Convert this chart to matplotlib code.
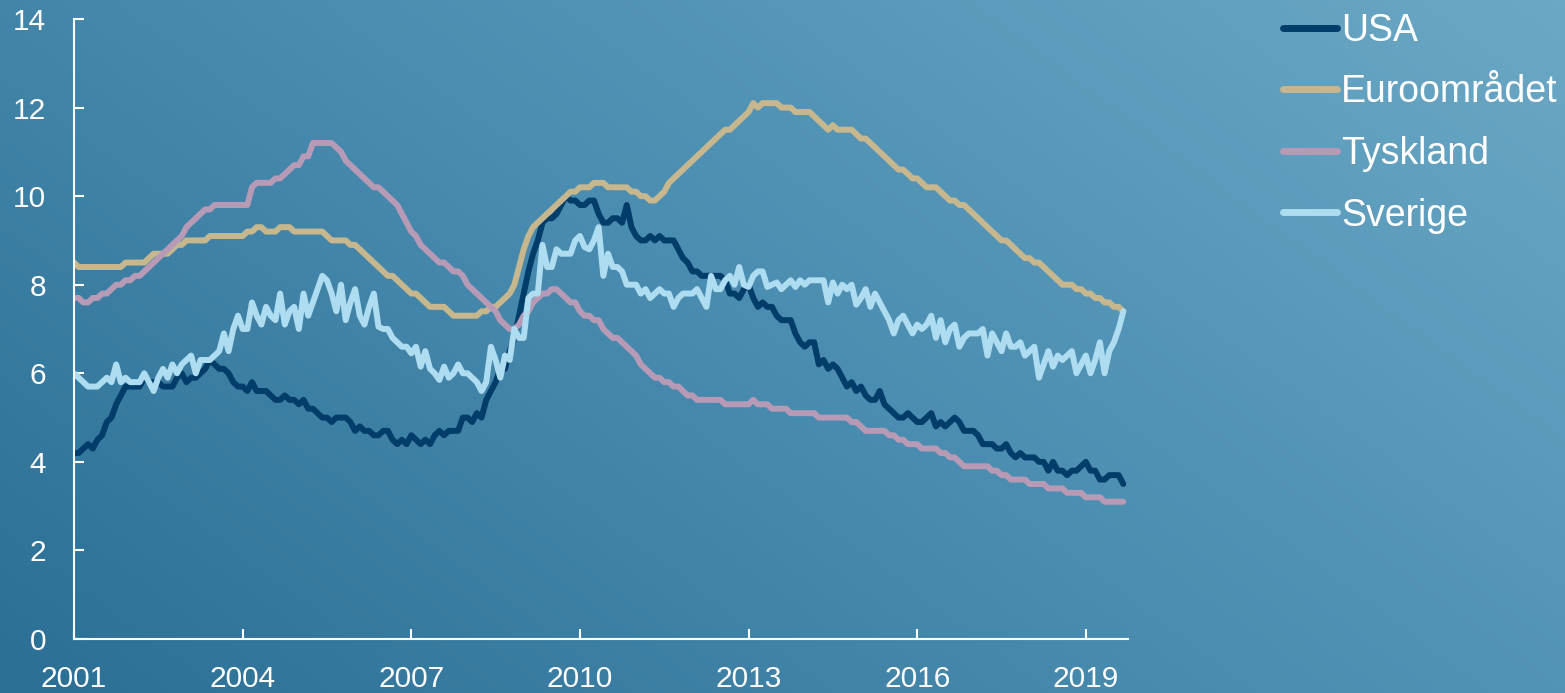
import numpy as np
import matplotlib
matplotlib.use("Agg")
import matplotlib.pyplot as plt
from matplotlib.colors import LinearSegmentedColormap

# ---------------- data (monthly, Jan 2001 - Sep 2019) ----------------
start_year = 2001
series_names = ["USA", "Euroområdet", "Tyskland", "Sverige"]

usa = [
    4.2, 4.2, 4.3, 4.4, 4.3, 4.5, 4.6, 4.9, 5.0, 5.3, 5.5, 5.7,
    5.7, 5.7, 5.7, 5.9, 5.8, 5.8, 5.8, 5.7, 5.7, 5.7, 5.9, 6.0,
    5.8, 5.9, 5.9, 6.0, 6.1, 6.3, 6.2, 6.1, 6.1, 6.0, 5.8, 5.7,
    5.7, 5.6, 5.8, 5.6, 5.6, 5.6, 5.5, 5.4, 5.4, 5.5, 5.4, 5.4,
    5.3, 5.4, 5.2, 5.2, 5.1, 5.0, 5.0, 4.9, 5.0, 5.0, 5.0, 4.9,
    4.7, 4.8, 4.7, 4.7, 4.6, 4.6, 4.7, 4.7, 4.5, 4.4, 4.5, 4.4,
    4.6, 4.5, 4.4, 4.5, 4.4, 4.6, 4.7, 4.6, 4.7, 4.7, 4.7, 5.0,
    5.0, 4.9, 5.1, 5.0, 5.4, 5.6, 5.8, 6.1, 6.1, 6.5, 6.8, 7.3,
    7.8, 8.3, 8.7, 9.0, 9.4, 9.5, 9.5, 9.6, 9.8, 10.0, 9.9, 9.9,
    9.8, 9.8, 9.9, 9.9, 9.6, 9.4, 9.4, 9.5, 9.5, 9.4, 9.8, 9.3,
    9.1, 9.0, 9.0, 9.1, 9.0, 9.1, 9.0, 9.0, 9.0, 8.8, 8.6, 8.5,
    8.3, 8.3, 8.2, 8.2, 8.2, 8.2, 8.2, 8.1, 7.8, 7.8, 7.7, 7.9,
    8.0, 7.7, 7.5, 7.6, 7.5, 7.5, 7.3, 7.2, 7.2, 7.2, 6.9, 6.7,
    6.6, 6.7, 6.7, 6.2, 6.3, 6.1, 6.2, 6.1, 5.9, 5.7, 5.8, 5.6,
    5.7, 5.5, 5.4, 5.4, 5.6, 5.3, 5.2, 5.1, 5.0, 5.0, 5.1, 5.0,
    4.9, 4.9, 5.0, 5.1, 4.8, 4.9, 4.8, 4.9, 5.0, 4.9, 4.7, 4.7,
    4.7, 4.6, 4.4, 4.4, 4.4, 4.3, 4.3, 4.4, 4.2, 4.1, 4.2, 4.1,
    4.1, 4.1, 4.0, 4.0, 3.8, 4.0, 3.8, 3.8, 3.7, 3.8, 3.8, 3.9,
    4.0, 3.8, 3.8, 3.6, 3.6, 3.7, 3.7, 3.7, 3.5,
]

euro = [
    8.5, 8.4, 8.4, 8.4, 8.4, 8.4, 8.4, 8.4, 8.4, 8.4, 8.4, 8.5,
    8.5, 8.5, 8.5, 8.5, 8.6, 8.7, 8.7, 8.7, 8.7, 8.8, 8.9, 8.9,
    9.0, 9.0, 9.0, 9.0, 9.0, 9.1, 9.1, 9.1, 9.1, 9.1, 9.1, 9.1,
    9.1, 9.2, 9.2, 9.3, 9.3, 9.2, 9.2, 9.2, 9.3, 9.3, 9.3, 9.2,
    9.2, 9.2, 9.2, 9.2, 9.2, 9.2, 9.1, 9.0, 9.0, 9.0, 9.0, 8.9,
    8.9, 8.8, 8.7, 8.6, 8.5, 8.4, 8.3, 8.2, 8.2, 8.1, 8.0, 7.9,
    7.8, 7.8, 7.7, 7.6, 7.5, 7.5, 7.5, 7.5, 7.4, 7.3, 7.3, 7.3,
    7.3, 7.3, 7.3, 7.4, 7.4, 7.5, 7.5, 7.6, 7.7, 7.8, 8.0, 8.4,
    8.8, 9.1, 9.3, 9.4, 9.5, 9.6, 9.7, 9.8, 9.9, 10.0, 10.1, 10.1,
    10.2, 10.2, 10.2, 10.3, 10.3, 10.3, 10.2, 10.2, 10.2, 10.2, 10.2, 10.1,
    10.1, 10.0, 10.0, 9.9, 9.9, 10.0, 10.1, 10.3, 10.4, 10.5, 10.6, 10.7,
    10.8, 10.9, 11.0, 11.1, 11.2, 11.3, 11.4, 11.5, 11.5, 11.6, 11.7, 11.8,
    11.9, 12.1, 12.0, 12.1, 12.1, 12.1, 12.1, 12.0, 12.0, 12.0, 11.9, 11.9,
    11.9, 11.9, 11.8, 11.7, 11.6, 11.5, 11.6, 11.5, 11.5, 11.5, 11.5, 11.4,
    11.3, 11.3, 11.2, 11.1, 11.0, 10.9, 10.8, 10.7, 10.6, 10.6, 10.5, 10.4,
    10.4, 10.3, 10.2, 10.2, 10.2, 10.1, 10.0, 9.9, 9.9, 9.8, 9.8, 9.7,
    9.6, 9.5, 9.4, 9.3, 9.2, 9.1, 9.0, 9.0, 8.9, 8.8, 8.7, 8.6,
    8.6, 8.5, 8.5, 8.4, 8.3, 8.2, 8.1, 8.0, 8.0, 8.0, 7.9, 7.9,
    7.8, 7.8, 7.7, 7.7, 7.6, 7.6, 7.5, 7.5, 7.4,
]

tyskland = [
    7.7, 7.7, 7.6, 7.6, 7.7, 7.7, 7.8, 7.8, 7.9, 8.0, 8.0, 8.1,
    8.1, 8.2, 8.2, 8.3, 8.4, 8.5, 8.6, 8.7, 8.8, 8.9, 9.0, 9.1,
    9.3, 9.4, 9.5, 9.6, 9.7, 9.7, 9.8, 9.8, 9.8, 9.8, 9.8, 9.8,
    9.8, 9.8, 10.2, 10.3, 10.3, 10.3, 10.3, 10.4, 10.4, 10.5, 10.6, 10.7,
    10.7, 10.9, 10.9, 11.2, 11.2, 11.2, 11.2, 11.2, 11.1, 11.0, 10.8, 10.7,
    10.6, 10.5, 10.4, 10.3, 10.2, 10.2, 10.1, 10.0, 9.9, 9.8, 9.6, 9.4,
    9.2, 9.1, 8.9, 8.8, 8.7, 8.6, 8.5, 8.5, 8.4, 8.3, 8.3, 8.2,
    8.0, 7.9, 7.8, 7.7, 7.6, 7.5, 7.4, 7.2, 7.1, 7.0, 7.0, 7.1,
    7.3, 7.4, 7.6, 7.7, 7.8, 7.8, 7.9, 7.9, 7.8, 7.7, 7.6, 7.6,
    7.4, 7.3, 7.3, 7.2, 7.2, 7.0, 6.9, 6.8, 6.8, 6.7, 6.6, 6.5,
    6.4, 6.2, 6.1, 6.0, 5.9, 5.9, 5.8, 5.8, 5.7, 5.7, 5.6, 5.5,
    5.5, 5.4, 5.4, 5.4, 5.4, 5.4, 5.4, 5.3, 5.3, 5.3, 5.3, 5.3,
    5.3, 5.4, 5.3, 5.3, 5.3, 5.2, 5.2, 5.2, 5.2, 5.1, 5.1, 5.1,
    5.1, 5.1, 5.1, 5.0, 5.0, 5.0, 5.0, 5.0, 5.0, 5.0, 4.9, 4.9,
    4.8, 4.7, 4.7, 4.7, 4.7, 4.7, 4.6, 4.6, 4.5, 4.5, 4.4, 4.4,
    4.4, 4.3, 4.3, 4.3, 4.3, 4.2, 4.2, 4.1, 4.1, 4.0, 3.9, 3.9,
    3.9, 3.9, 3.9, 3.9, 3.8, 3.8, 3.7, 3.7, 3.6, 3.6, 3.6, 3.6,
    3.5, 3.5, 3.5, 3.5, 3.4, 3.4, 3.4, 3.4, 3.3, 3.3, 3.3, 3.3,
    3.2, 3.2, 3.2, 3.2, 3.1, 3.1, 3.1, 3.1, 3.1,
]

sverige = [
    6.0, 5.9, 5.8, 5.7, 5.7, 5.7, 5.8, 5.9, 5.8, 6.2, 5.8, 5.9,
    5.8, 5.8, 5.8, 6.0, 5.8, 5.6, 5.9, 6.1, 5.9, 6.2, 6.0, 6.2,
    6.3, 6.4, 6.0, 6.3, 6.3, 6.3, 6.4, 6.5, 6.9, 6.5, 7.0, 7.3,
    7.0, 7.0, 7.6, 7.3, 7.1, 7.5, 7.3, 7.2, 7.8, 7.1, 7.4, 7.5,
    7.0, 7.8, 7.3, 7.6, 7.9, 8.2, 8.1, 7.8, 7.4, 8.0, 7.2, 7.6,
    7.9, 7.3, 7.1, 7.5, 7.8, 7.05, 7.0, 7.0, 6.8, 6.7, 6.6, 6.6,
    6.45, 6.6, 6.15, 6.5, 6.1, 6.0, 5.85, 6.15, 5.9, 6.0, 6.2, 6.0,
    6.0, 5.9, 5.8, 5.6, 5.8, 6.6, 6.3, 5.9, 6.4, 6.3, 7.0, 6.8,
    6.8, 7.7, 7.8, 7.8, 8.9, 8.4, 8.4, 8.8, 8.7, 8.7, 8.7, 9.0,
    9.1, 8.85, 8.8, 9.0, 9.3, 8.2, 8.7, 8.4, 8.4, 8.3, 8.0, 8.0,
    8.0, 7.8, 7.9, 7.7, 7.8, 7.9, 7.8, 7.8, 7.5, 7.7, 7.8, 7.8,
    7.8, 7.9, 7.7, 7.5, 8.2, 7.9, 7.9, 8.1, 8.2, 8.0, 8.4, 8.0,
    7.95, 8.2, 8.3, 8.3, 7.95, 8.0, 8.05, 7.9, 8.0, 8.1, 7.95, 8.1,
    8.0, 8.1, 8.1, 8.1, 8.1, 7.6, 8.05, 7.8, 8.0, 7.9, 8.0, 7.55,
    7.7, 7.9, 7.5, 7.8, 7.6, 7.4, 7.2, 6.9, 7.2, 7.3, 7.1, 6.9,
    7.1, 7.0, 7.1, 7.3, 6.8, 7.2, 6.7, 7.0, 7.1, 6.6, 6.8, 6.9,
    6.9, 6.9, 7.0, 6.4, 6.9, 6.7, 6.5, 6.9, 6.6, 6.6, 6.7, 6.4,
    6.5, 6.6, 5.9, 6.2, 6.5, 6.15, 6.4, 6.3, 6.4, 6.5, 6.0, 6.2,
    6.4, 6.0, 6.3, 6.7, 6.0, 6.5, 6.7, 7.0, 7.4,
]

x_ticks = [2001, 2004, 2007, 2010, 2013, 2016, 2019]
y_ticks = [0, 2, 4, 6, 8, 10, 12, 14]

# ---------------- styling ----------------
colors = ["#003d6b", "#c6b78f", "#b79bb6", "#aedcf0"]
plt.rcParams["font.family"] = ["Liberation Sans", "DejaVu Sans"]

W, H = 1565, 693
fig = plt.figure(figsize=(W / 100, H / 100), dpi=100)

# gradient background
bg = fig.add_axes([0, 0, 1, 1], zorder=-10)
gx, gy = np.meshgrid(np.linspace(0, 1, 400), np.linspace(0, 1, 200))
t = (gx * 0.75 + gy * 0.45) / 1.2
cmap = LinearSegmentedColormap.from_list("bg", ["#2c6f95", "#4a8db0", "#6ba8c5"])
bg.imshow(t, cmap=cmap, origin="lower", aspect="auto", extent=[0, 1, 0, 1],
          vmin=0, vmax=1)
bg.axis("off")

ax = fig.add_axes([74 / W, 1 - 639 / H, (1128 - 74) / W, (639 - 19) / H])
ax.set_facecolor("none")

series = [usa, euro, tyskland, sverige]
for name, vals, c in zip(series_names, series, colors):
    xs = start_year + np.arange(len(vals)) / 12.0
    ax.plot(xs, vals, color=c, lw=4.3, label=name,
            solid_joinstyle="round", solid_capstyle="round")

ax.set_xlim(2001, 2019.75)
ax.set_ylim(0, 14)
ax.set_xticks(x_ticks)
ax.set_yticks(y_ticks)
ax.set_xticklabels([str(v) for v in x_ticks])
ax.set_yticklabels([str(v) for v in y_ticks])

for s in ["top", "right"]:
    ax.spines[s].set_visible(False)
for s in ["left", "bottom"]:
    ax.spines[s].set_color("white")
    ax.spines[s].set_linewidth(1.5)

ax.tick_params(axis="both", direction="in", length=7, width=1.5,
               color="white", labelcolor="white", labelsize=21.5)
ax.tick_params(axis="y", pad=20)
ax.tick_params(axis="x", pad=19)

leg = ax.legend(loc="upper left", bbox_to_anchor=(1268 / W, 1 + 2 / H),
                bbox_transform=fig.transFigure, frameon=False,
                fontsize=27, handlelength=1.45, handletextpad=0.1,
                labelspacing=0.68, borderaxespad=0)
for txt in leg.get_texts():
    txt.set_color("white")
for h in leg.get_lines():
    h.set_linewidth(5)
    h.set_solid_capstyle("round")

fig.savefig("out.png", dpi=100)
